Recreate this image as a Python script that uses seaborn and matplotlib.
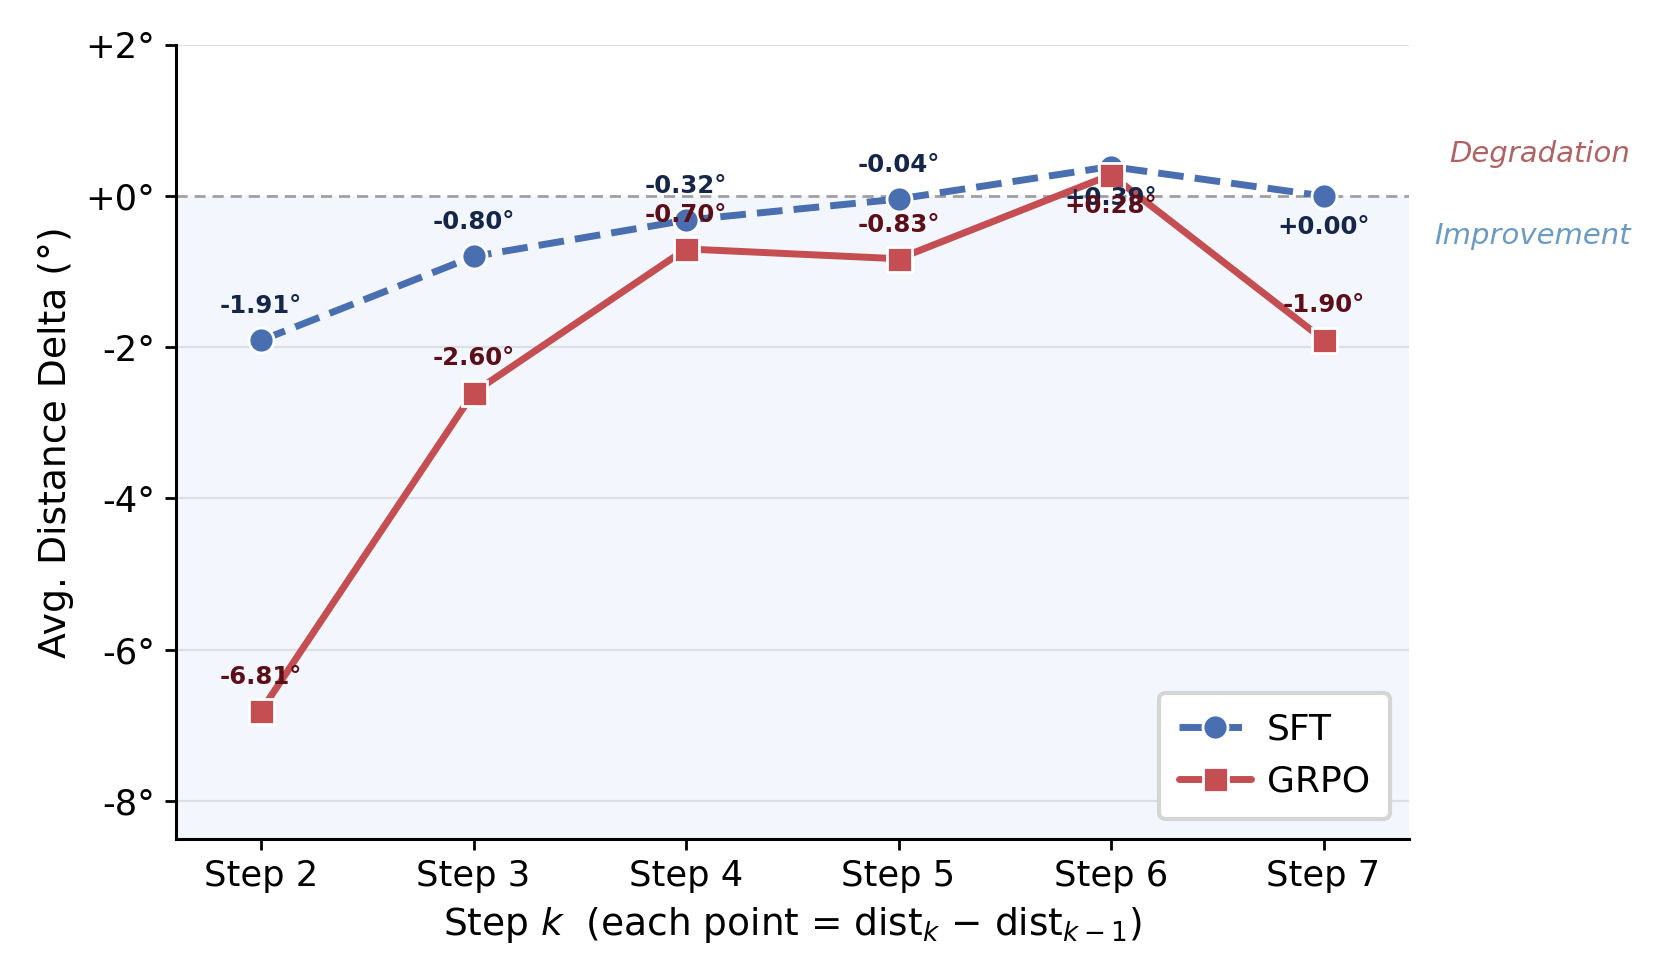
import matplotlib
matplotlib.use("Agg")
import matplotlib.pyplot as plt
import seaborn as sns
import pandas as pd

steps = ["Step 2", "Step 3", "Step 4", "Step 5", "Step 6", "Step 7"]
sft = [-1.91, -0.80, -0.32, -0.04, 0.39, 0.00]
grpo = [-6.81, -2.60, -0.70, -0.83, 0.28, -1.90]
yticks = [2, 0, -2, -4, -6, -8]
ytick_labels = ["+2°", "+0°", "-2°", "-4°", "-6°", "-8°"]

sns.set_theme(style="white")
plt.rcParams['font.family'] = ['DejaVu Sans']
plt.rcParams['text.color'] = 'black'
plt.rcParams['axes.labelcolor'] = 'black'
plt.rcParams['xtick.color'] = 'black'
plt.rcParams['ytick.color'] = 'black'

fig = plt.figure(figsize=(8.305, 4.87), dpi=200)
ax = fig.add_axes([0.106, 0.139, 0.742, 0.815])

x = list(range(len(steps)))
blue = "#4a6fb0"
red = "#c44e52"

ax.axhspan(-8.5, 0, color="#f3f7fd", zorder=0, lw=0)
for yv in [2, -2, -4, -6, -8]:
    ax.axhline(yv, color="#dcdfe4", lw=0.8, zorder=0.5)
ax.axhline(0, color="#a0a0a0", lw=1.0, ls=(0, (4, 2.5)), zorder=1)

df_sft = pd.DataFrame({"x": x, "y": sft})
df_grpo = pd.DataFrame({"x": x, "y": grpo})
sns.lineplot(data=df_sft, x="x", y="y", ax=ax, color=blue, lw=2.5, ls="--",
             marker="o", markersize=9, markeredgecolor="white", markeredgewidth=1.0,
             label="SFT", zorder=3, dashes=(3.5, 1.6))
sns.lineplot(data=df_grpo, x="x", y="y", ax=ax, color=red, lw=2.5,
             marker="s", markersize=9, markeredgecolor="white", markeredgewidth=1.0,
             label="GRPO", zorder=3)

for vals, col in [(sft, "#15264a"), (grpo, "#5c0f18")]:
    for xi, v in zip(x, vals):
        if v >= 0:
            ax.annotate(f"{v:+.2f}°", (xi, v), xytext=(0, -7), textcoords="offset points",
                        ha="center", va="top", fontsize=8.8, fontweight="bold", color=col, zorder=5)
        else:
            ax.annotate(f"{v:+.2f}°", (xi, v), xytext=(0, 8), textcoords="offset points",
                        ha="center", va="bottom", fontsize=8.8, fontweight="bold", color=col, zorder=5)

ax.set_xlim(-0.4, 5.4)
ax.set_ylim(-8.5, 2)
ax.set_xticks(x)
ax.set_xticklabels(steps, fontsize=12.7)
ax.set_yticks(yticks)
ax.set_yticklabels(ytick_labels, fontsize=12.7)
ax.tick_params(axis="both", which="both", length=4, width=1, color="black", left=True, bottom=True)
ax.set_xlabel(r"Step $k$  (each point = dist$_k$ $-$ dist$_{k-1}$)", fontsize=13.5, labelpad=4)
ax.set_ylabel("Avg. Distance Delta (°)", fontsize=13.6)

for s in ["top", "right"]:
    ax.spines[s].set_visible(False)
for s in ["left", "bottom"]:
    ax.spines[s].set_color("black")
    ax.spines[s].set_linewidth(1.1)

ax.text(1.18, 0.55, "Degradation", transform=ax.get_yaxis_transform(), ha="right", va="center",
        fontsize=10.5, style="italic", color="#b06262")
ax.text(1.18, -0.53, "Improvement", transform=ax.get_yaxis_transform(), ha="right", va="center",
        fontsize=10.5, style="italic", color="#6a9bc3")

leg = ax.legend(loc="lower right", fontsize=13, frameon=True, borderpad=0.55,
                handlelength=2.0, handletextpad=0.45, borderaxespad=0,
                bbox_to_anchor=(0.985, 0.025))
leg.get_frame().set_edgecolor("#d5d5d5")
leg.get_frame().set_linewidth(1.5)
leg.get_frame().set_facecolor("white")
leg.get_frame().set_alpha(1)

fig.savefig("out.png", dpi=200)
